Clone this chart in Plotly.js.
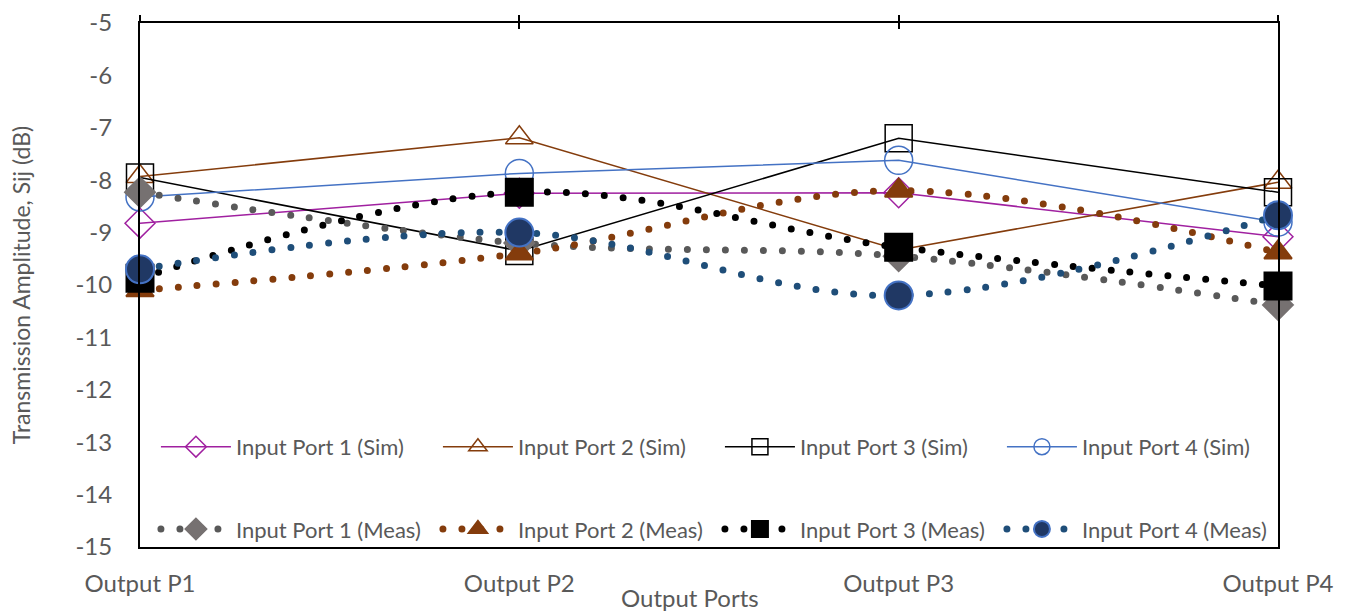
<!DOCTYPE html>
<html>
<head>
<meta charset="utf-8">
<script src="https://cdn.plot.ly/plotly-3.0.1.min.js"></script>
<style>
html,body{margin:0;padding:0;background:#fff;}
#chart{width:1352px;height:612px;}
</style>
</head>
<body>
<div id="chart"></div>
<script>
// ---- data ----
const categories = ["Output P1", "Output P2", "Output P3", "Output P4"];
const yTicks = [-5, -6, -7, -8, -9, -10, -11, -12, -13, -14, -15];

const sim1 = [-8.82, -8.25, -8.24, -9.08];
const sim2 = [-7.93, -7.19, -9.33, -8.04];
const sim3 = [-7.95, -9.35, -7.20, -8.23];
const sim4 = [-8.32, -7.87, -7.62, -8.80];

const meas1 = [-8.23, -9.20, -9.45, -10.38];
const meas2 = [-10.10, -9.40, -8.20, -9.38];
const meas3 = [-9.87, -8.23, -9.28, -10.02];
const meas4 = [-9.70, -9.00, -10.20, -8.67];

const names = ["Input Port 1", "Input Port 2", "Input Port 3", "Input Port 4"];

// ---- build ----
const xIdx = categories.map((c, i) => i);

function simTrace(y, name, color, symbol, size) {
  return {
    x: xIdx, y: y, name: name + " (Sim)", type: "scatter", mode: "lines+markers",
    line: {color: color, width: 1.5}, cliponaxis: false,
    marker: {symbol: symbol, size: size, color: color, line: {color: color, width: 1.5}},
    legend: "legend", hoverinfo: "skip"
  };
}
function measTrace(y, name, lineColor, symbol, size, fill, border) {
  return {
    x: xIdx, y: y, name: name + " (Meas)", type: "scatter", mode: "lines+markers",
    line: {color: lineColor, width: 7, shape: "spline", smoothing: 1, dash: "0px,19px"},
    cliponaxis: false,
    marker: {symbol: symbol, size: size, color: fill, line: {color: border, width: 2}},
    legend: "legend2", hoverinfo: "skip"
  };
}

const traces = [
  simTrace(sim1, names[0], "#A020A0", "diamond-open", 23),
  simTrace(sim2, names[1], "#843C0C", "triangle-up-open", 24),
  simTrace(sim3, names[2], "#000000", "square-open", 27),
  simTrace(sim4, names[3], "#4472C4", "circle-open", 28),
  measTrace(meas1, names[0], "#595959", "diamond", 23, "#767171", "#767171"),
  measTrace(meas2, names[1], "#843C0C", "triangle-up", 24, "#843C0C", "#843C0C"),
  measTrace(meas3, names[2], "#000000", "square", 27, "#000000", "#000000"),
  measTrace(meas4, names[3], "#1F4E79", "circle", 28, "#203864", "#4472C4"),
  // empty helpers so the top tick axes are drawn
  {x: [], y: [], xaxis: "x2", type: "scatter", showlegend: false, hoverinfo: "skip"},
  {x: [], y: [], xaxis: "x3", type: "scatter", showlegend: false, hoverinfo: "skip"}
];

const FONT = "Lato, 'Open Sans', sans-serif";
const GREY = "#595959";

const layout = {
  width: 1352, height: 612,
  margin: {l: 140, r: 74, t: 23, b: 65},
  paper_bgcolor: "#fff", plot_bgcolor: "#fff",
  font: {family: FONT, color: GREY, size: 20},
  showlegend: true,
  xaxis: {
    range: [0, 3], tickvals: xIdx, ticktext: categories,
    showgrid: false, zeroline: false,
    showline: true, mirror: true, linecolor: "#000", linewidth: 2,
    ticks: "", ticklabelstandoff: 14,
    tickfont: {size: 24, color: GREY}
  },
  xaxis2: {
    overlaying: "x", anchor: "y", side: "top", range: [0, 3], tickvals: xIdx,
    showticklabels: false, showgrid: false, zeroline: false, showline: false,
    ticks: "outside", ticklen: 7, tickwidth: 2, tickcolor: "#000"
  },
  xaxis3: {
    overlaying: "x", anchor: "y", side: "top", range: [0, 3], tickvals: xIdx,
    showticklabels: false, showgrid: false, zeroline: false, showline: false,
    ticks: "inside", ticklen: 6, tickwidth: 2, tickcolor: "#000"
  },
  yaxis: {
    range: [-15, -5], tickvals: yTicks, ticktext: yTicks.map(v => String(v)),
    showgrid: false, zeroline: false,
    showline: true, mirror: true, linecolor: "#000", linewidth: 2,
    ticks: "", ticklabelstandoff: 21,
    tickfont: {size: 24, color: GREY},
    title: {text: "Transmission Amplitude, Sij (dB)", font: {size: 23, color: GREY}, standoff: 38}
  },
  annotations: [{
    text: "Output Ports", xref: "paper", yref: "paper",
    x: 0.483, y: -0.097, xanchor: "center", yanchor: "middle",
    showarrow: false, font: {family: FONT, size: 24, color: GREY}
  }],
  legend: {
    orientation: "h", x: 0.014, xanchor: "left", y: 0.191, yanchor: "middle",
    entrywidth: 197, itemwidth: 70, bgcolor: "rgba(0,0,0,0)",
    font: {family: FONT, size: 22, color: GREY}
  },
  legend2: {
    orientation: "h", x: 0.014, xanchor: "left", y: 0.034, yanchor: "middle",
    entrywidth: 197, itemwidth: 70, bgcolor: "rgba(0,0,0,0)",
    font: {family: FONT, size: 22, color: GREY}
  }
};

function roundDots() {
  const gd = document.getElementById("chart");
  gd.querySelectorAll("path").forEach(p => {
    const da = (p.style.strokeDasharray || p.getAttribute("stroke-dasharray") || "").replace(/\s/g, "");
    if (/^0(px)?,19/.test(da)) p.style.strokeLinecap = "round";
  });
}

Plotly.newPlot("chart", traces, layout, {staticPlot: true}).then(gd => {
  roundDots();
  gd.on("plotly_afterplot", roundDots);
});
</script>
</body>
</html>
